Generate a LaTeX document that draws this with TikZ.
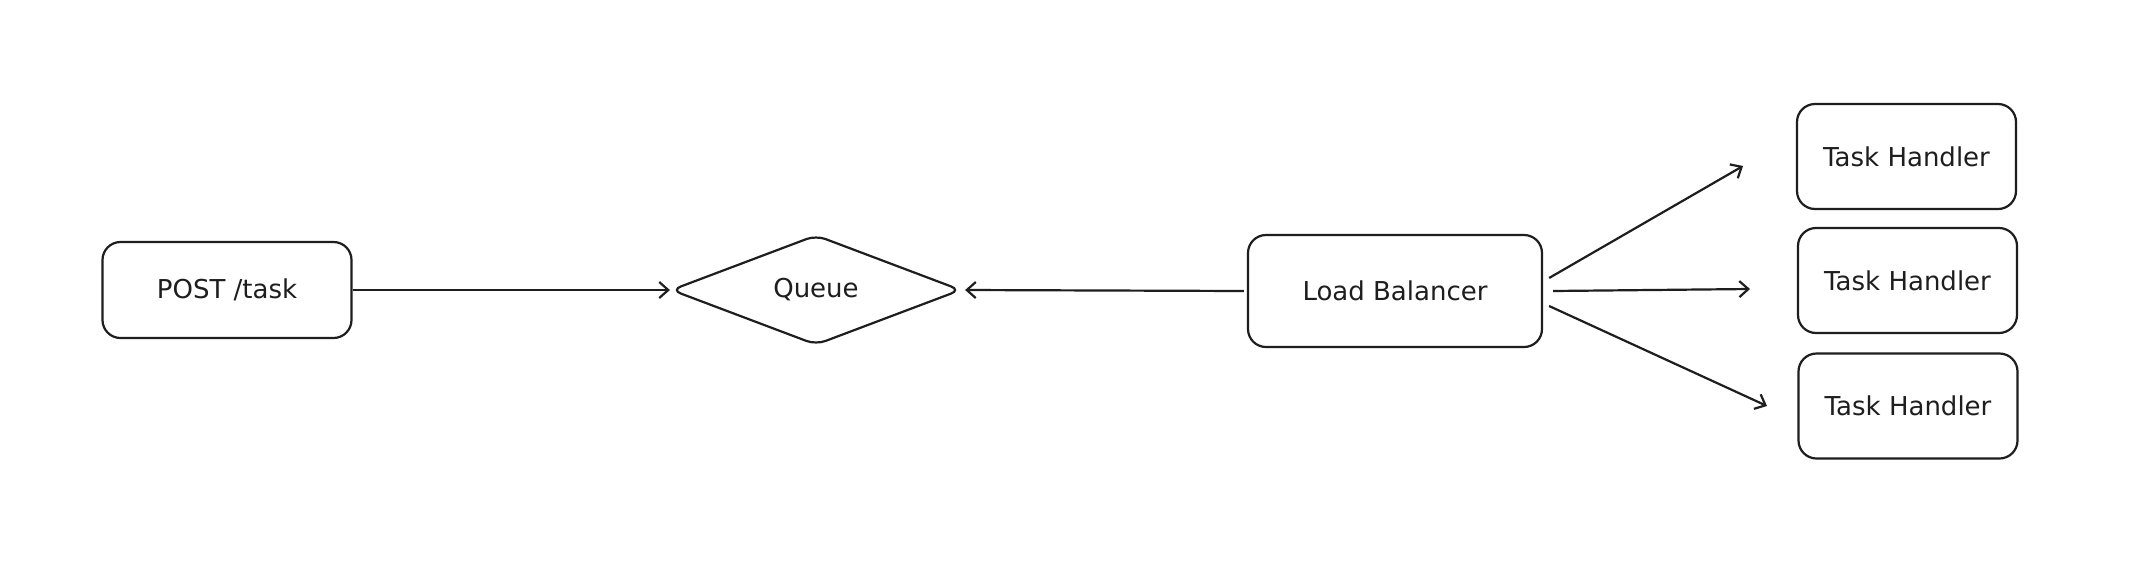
\documentclass[tikz,border=0pt]{standalone}
\usepackage{fontspec}
\setmainfont{DejaVu Sans}
\usetikzlibrary{shapes.geometric,arrows.meta}
\definecolor{ink}{HTML}{1E1E1E}
\tikzset{
  box/.style={draw=ink, line width=2.2pt, rounded corners=18pt, inner sep=0pt, font=\fontsize{26}{30}\selectfont, text=ink},
  dia/.style={draw=ink, line width=2.2pt, diamond, rounded corners=10pt, inner sep=0pt, minimum width=290pt, minimum height=110pt, font=\fontsize{26}{30}\selectfont, text=ink},
  conn/.style={draw=ink, line width=2.2pt, -{Straight Barb[length=9pt,width=16pt,line width=2.2pt]}}
}
\begin{document}
\begin{tikzpicture}[x=1pt,y=-1pt]
\useasboundingbox[fill=white] (0,0) rectangle (2136,582);
\node[box, minimum width=249pt, minimum height=96pt] (post) at (227,290) {POST /task};
\node[dia] (queue) at (816,290) {Queue};
\node[box, minimum width=294pt, minimum height=112pt] (lb) at (1395,291) {Load Balancer};
\node[box, minimum width=219pt, minimum height=105pt] (th1) at (1906.5,156.5) {Task Handler};
\node[box, minimum width=219pt, minimum height=105pt] (th2) at (1907.5,280.5) {Task Handler};
\node[box, minimum width=219pt, minimum height=105pt] (th3) at (1908,406) {Task Handler};
\coordinate (e1) at (1743,166);
\coordinate (e2) at (1750,289);
\coordinate (e3) at (1767,406);
\draw[conn] (post.east) -- (queue.west);
\draw[conn] ([xshift=-3pt]lb.west) -- ([xshift=3pt]queue.east);
\draw[conn] ([xshift=6pt,yshift=13pt]lb.east) -- (e1);
\draw[conn] ([xshift=10pt]lb.east) -- (e2);
\draw[conn] ([xshift=6pt,yshift=-15pt]lb.east) -- (e3);
\end{tikzpicture}
\end{document}
